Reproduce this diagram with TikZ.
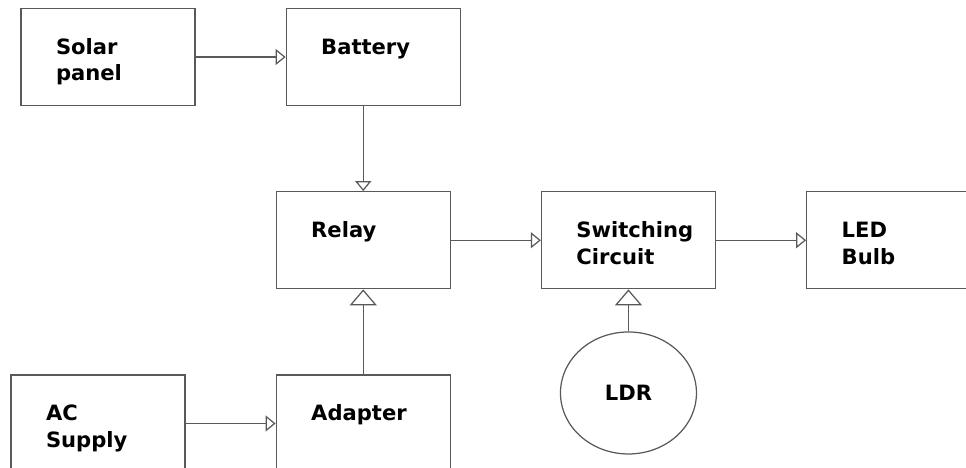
\documentclass[tikz,border=0pt]{standalone}
\usepackage{fontspec}
\setmainfont{DejaVu Sans}
\usepackage{tikz}
\usetikzlibrary{positioning, arrows.meta, shapes.geometric}

\begin{document}
\begin{tikzpicture}[
		node distance=1.7cm and 1.8cm,
		blockbox/.style={rectangle, draw=black!65, line width=0.7pt, fill=white, text width=2.08cm, inner xsep=0.7cm, inner ysep=0pt, text height=0.92cm, text depth=1.02cm, align=left, font=\fontsize{12}{15}\selectfont\bfseries},
		ldrbox/.style={ellipse, draw=black!65, line width=0.7pt, minimum width=2.72cm, minimum height=2.44cm, inner sep=0pt, font=\fontsize{12}{15}\selectfont\bfseries},
		arrow/.style={-{Triangle[open, length=2mm, width=3.2mm]}, draw=black!65, line width=0.7pt},
		bigarrow/.style={-{Triangle[open, length=3.2mm, width=5.4mm]}, draw=black!65, line width=0.7pt}
		]

		\useasboundingbox (0,0) rectangle (19.32,-9.34);

		\node[blockbox] (solar) at (2.16,-1.14) {Solar\\panel};
		\node[blockbox, right=of solar] (battery) {Battery};

		\node[blockbox, below=of battery, xshift=-0.2cm] (relay) {Relay};
		\node[blockbox, right=of relay] (switching) {Switching\\Circuit};
		\node[blockbox, right=of switching] (led) {LED\\Bulb};

		\node[blockbox, below=of relay] (adapter) {Adapter};
		\node[blockbox, left=of adapter] (ac) {AC\\Supply};

		\node[ldrbox, below=0.84cm of switching] (ldr) {LDR};

		\draw[arrow] (solar) -- (battery);
		\draw[arrow] (relay |- battery.south) -- (relay.north);
		\draw[arrow] (relay) -- (switching);
		\draw[arrow] (switching) -- (led);
		\draw[arrow] (ac) -- (adapter);

		\draw[bigarrow] (adapter) -- (relay);
		\draw[bigarrow] (ldr) -- (switching);
	\end{tikzpicture}
\end{document}
